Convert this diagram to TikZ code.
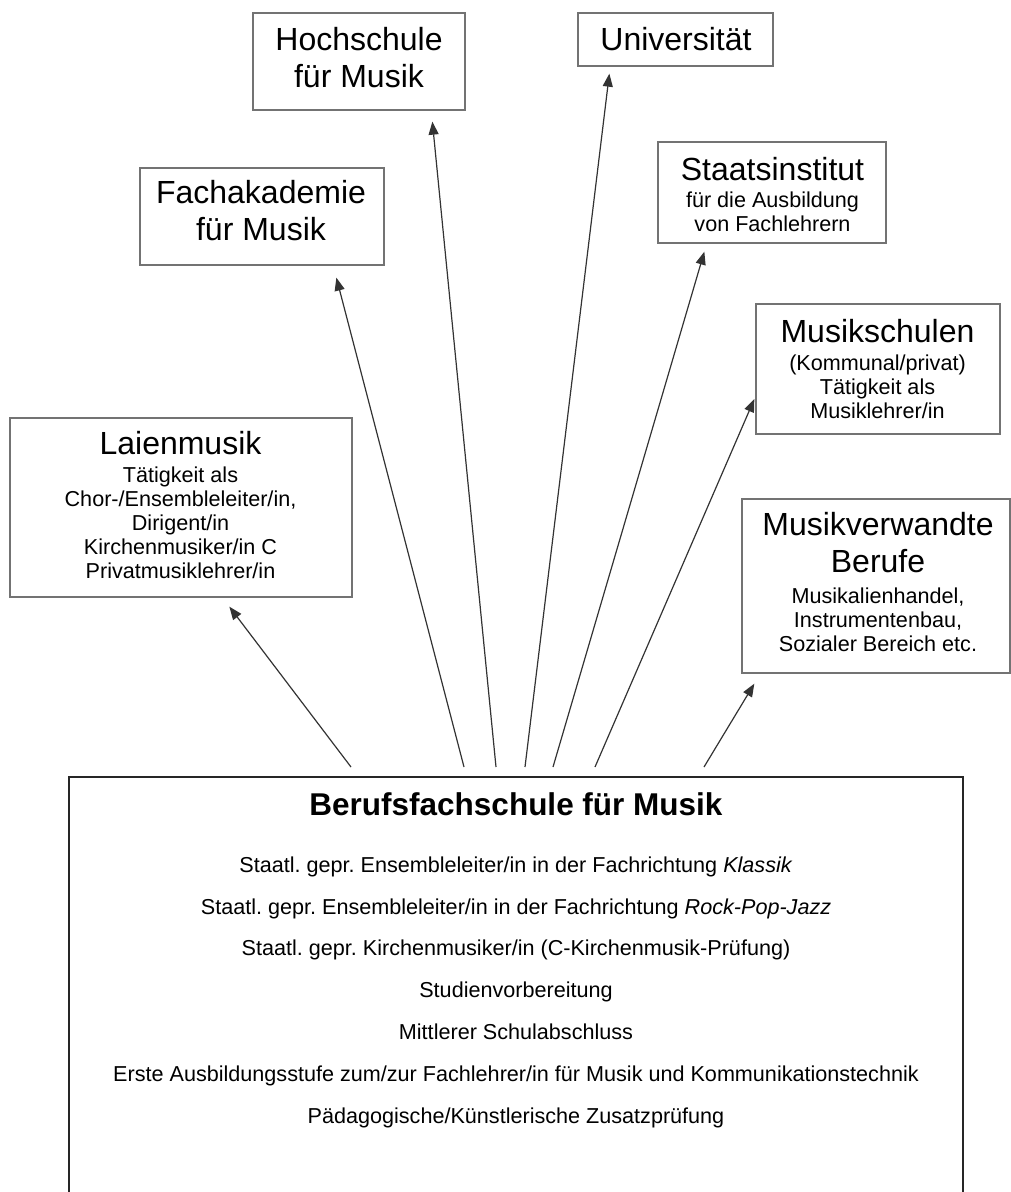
\documentclass[tikz,border=0pt]{standalone}
\usepackage{fontspec}
\setmainfont{Liberation Sans}
\usetikzlibrary{arrows.meta}
\frenchspacing
\newcommand{\titelschrift}{\fontsize{32}{37}\selectfont}
\newcommand{\textschrift}{\fontsize{21.6}{24}\selectfont}
\newcommand{\kopfschrift}{\fontsize{31.5}{36}\selectfont\bfseries}
\newcommand{\listenschrift}{\fontsize{21.6}{41.8}\selectfont}
\tikzset{
  kasten/.style={rectangle, draw=black!55, line width=1.3pt, inner sep=0pt},
  schule/.style={rectangle, draw=black!85, line width=2pt, inner sep=0pt},
  beschriftung/.style={anchor=north, inner sep=0pt, align=center},
  pfeil/.style={-{Triangle[length=13pt,width=10pt]}, draw=black!80, line width=1.2pt},
}
\begin{document}
\begin{tikzpicture}[x=1pt,y=-1pt]
  \useasboundingbox (0,0) rectangle (1011,1192);
  % Kaesten oben
  \node[kasten, minimum width=212pt, minimum height=97pt] (hfm) at (359,61.5) {};
  \node[beschriftung, font=\titelschrift] (hfmText) at (359,27) {Hochschule\\für Musik};
  \node[kasten, minimum width=195pt, minimum height=53pt] (uni) at (675.5,39.5) {};
  \node[beschriftung, font=\titelschrift] (uniText) at (676,27) {Universität};
  \node[kasten, minimum width=244pt, minimum height=97pt] (fak) at (262,216.5) {};
  \node[beschriftung, font=\titelschrift] (fakText) at (261,180) {Fachakademie\\für Musik};
  \node[kasten, minimum width=228pt, minimum height=101pt] (sti) at (772,192.5) {};
  \node[beschriftung, font=\textschrift] (stiText) at (772.5,157) {{\titelschrift Staatsinstitut}\\[3pt]für die Ausbildung\\von Fachlehrern};
  \node[kasten, minimum width=244pt, minimum height=130pt] (msch) at (878,369) {};
  \node[beschriftung, font=\textschrift] (mschText) at (877.5,319) {{\titelschrift Musikschulen}\\[4pt](Kommunal/privat)\\Tätigkeit als\\Musiklehrer/in};
  \node[kasten, minimum width=268pt, minimum height=174pt] (mvb) at (876,586) {};
  \node[beschriftung, font=\textschrift] (mvbText) at (878,512) {{\titelschrift Musikverwandte}\\[13pt]{\titelschrift Berufe}\\[7pt]Musikalienhandel,\\Instrumentenbau,\\Sozialer Bereich etc.};
  \node[kasten, minimum width=342pt, minimum height=179pt] (lai) at (181,507.5) {};
  \node[beschriftung, font=\textschrift] (laiText) at (180.5,431) {{\titelschrift Laienmusik}\\[4pt]Tätigkeit als\\Chor-/Ensembleleiter/in,\\Dirigent/in\\Kirchenmusiker/in C\\Privatmusiklehrer/in};
  % Berufsfachschule
  \node[schule, minimum width=894pt, minimum height=440pt] (bfs) at (516,997) {};
  \node[beschriftung, font=\kopfschrift] (bfsTitel) at (516,792) {Berufsfachschule für Musik};
  \node[beschriftung, font=\listenschrift] (abschluesse) at (516,856.5) {Staatl. gepr. Ensembleleiter/in in der Fachrichtung \textit{Klassik}\\Staatl. gepr. Ensembleleiter/in in der Fachrichtung \textit{Rock-Pop-Jazz}\\Staatl. gepr. Kirchenmusiker/in (C-Kirchenmusik-Prüfung)\\Studienvorbereitung\\Mittlerer Schulabschluss\\Erste Ausbildungsstufe zum/zur Fachlehrer/in für Musik und Kommunikationstechnik\\Pädagogische/Künstlerische Zusatzprüfung};
  % Pfeile
  \draw[pfeil] ([xshift=283pt,yshift=9pt]bfs.north west) -- ([xshift=220pt,yshift=-9pt]lai.south west);
  \draw[pfeil] ([xshift=396pt,yshift=9pt]bfs.north west) -- ([xshift=197pt,yshift=-12pt]fak.south west);
  \draw[pfeil] ([xshift=428pt,yshift=9pt]bfs.north west) -- ([xshift=180pt,yshift=-11pt]hfm.south west);
  \draw[pfeil] ([xshift=457pt,yshift=9pt]bfs.north west) -- ([xshift=32pt,yshift=-7pt]uni.south west);
  \draw[pfeil] ([xshift=485pt,yshift=9pt]bfs.north west) -- ([xshift=47pt,yshift=-8pt]sti.south west);
  \draw[pfeil] ([xshift=527pt,yshift=9pt]bfs.north west) -- ([xshift=-1pt,yshift=-30pt]msch.west);
  \draw[pfeil] ([xshift=636pt,yshift=9pt]bfs.north west) -- ([xshift=13pt,yshift=-10pt]mvb.south west);
\end{tikzpicture}
\end{document}
